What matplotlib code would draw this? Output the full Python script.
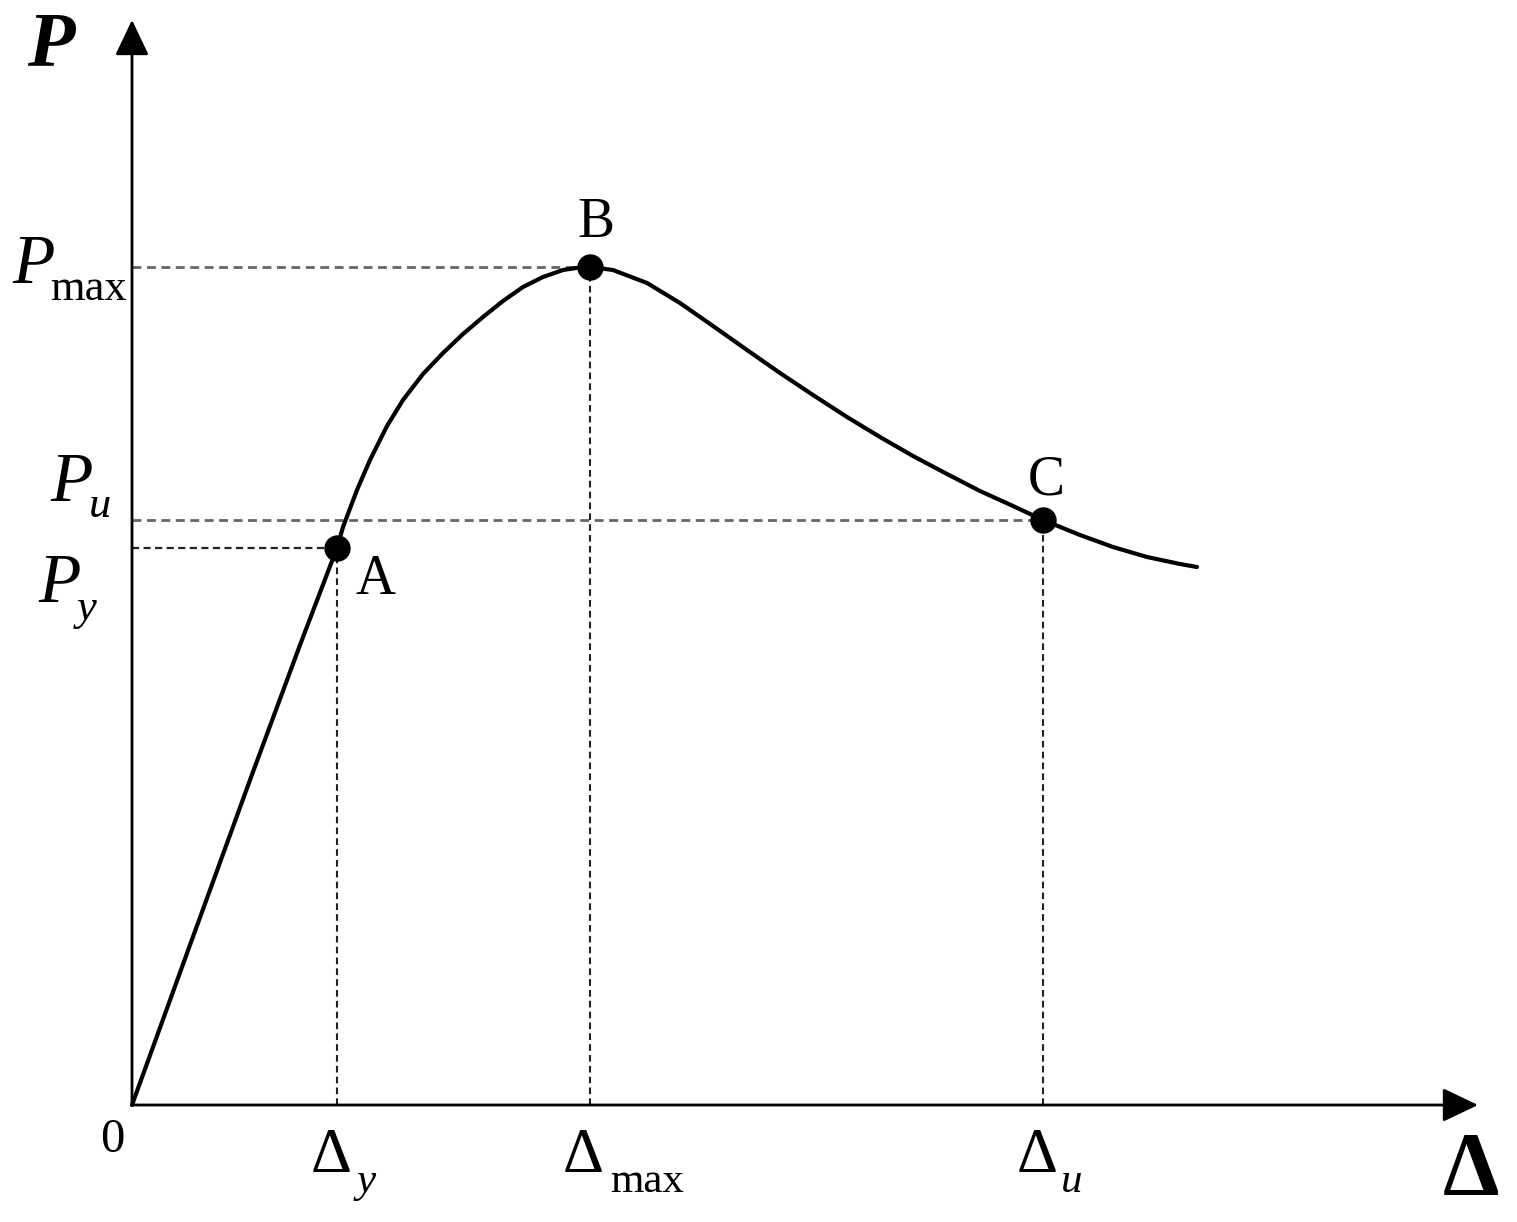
"""
Load-displacement (P-Delta) skeleton curve with yield, peak and ultimate points
"""
import matplotlib
matplotlib.use('Agg')
import matplotlib.pyplot as plt

# Curve data (displacement, load), arbitrary units
delta = [0, 0.58, 1.18, 1.68, 2.05, 2.11, 2.25, 2.38, 2.55, 2.71, 2.91, 3.11,
         3.31, 3.51, 3.71, 3.91, 4.11, 4.31, 4.51, 4.58, 4.81, 5.15, 5.48,
         5.81, 6.15, 6.48, 6.81, 7.15, 7.48, 7.81, 8.15, 8.48, 8.81, 9.11,
         9.48, 9.81, 10.15, 10.48, 10.65]
load = [0, 1.60, 3.25, 4.60, 5.57, 5.78, 6.15, 6.45, 6.79, 7.05, 7.31, 7.52,
        7.71, 7.88, 8.04, 8.18, 8.28, 8.35, 8.38, 8.38, 8.35, 8.22, 8.02,
        7.79, 7.55, 7.32, 7.10, 6.88, 6.68, 6.49, 6.31, 6.14, 5.99, 5.85,
        5.70, 5.58, 5.48, 5.41, 5.38]

# Characteristic points: A (yield), B (peak), C (ultimate)
point_names = ['A', 'B', 'C']
point_delta = [2.05, 4.58, 9.11]
point_load = [5.57, 8.38, 5.85]

x_axis_end = 13.46
y_axis_end = 10.85

SERIF = 'Liberation Serif'

fig = plt.figure(figsize=(15.17, 12.22), dpi=100)
ax = fig.add_axes([0, 0, 1, 1])
ax.set_xlim(-1.32, 13.85)
ax.set_ylim(-1.17, 11.05)
ax.axis('off')

# Axes with arrows
arrow_kw = dict(arrowstyle='-|>,head_length=2.2,head_width=1.05', lw=2.0,
                color='black', shrinkA=0, shrinkB=0, mutation_scale=10)
ax.annotate('', xy=(0, y_axis_end), xytext=(0, 0), arrowprops=arrow_kw)
ax.annotate('', xy=(x_axis_end, 0), xytext=(0, 0), arrowprops=arrow_kw)

# Dashed guide lines
dash = (0, (3.2, 2.0))
for i, (xd, yd) in enumerate(zip(point_delta, point_load)):
    if i == 0:
        ax.plot([0, xd], [yd, yd], color='#222222', lw=1.6, linestyle=dash)
    else:
        ax.plot([0, xd], [yd, yd], color='#666666', lw=2.0, linestyle=dash)
    ax.plot([xd, xd], [0, yd], color='#222222', lw=1.5, linestyle=dash)

# Main curve
ax.plot(delta, load, color='black', lw=3.0, solid_capstyle='round',
        solid_joinstyle='round')
ax.plot(point_delta, point_load, 'o', color='black', ms=18)

# Point labels
ax.text(point_delta[0] + 0.19, point_load[0] - 0.06, point_names[0], fontsize=40,
        family=SERIF, ha='left', va='top')
ax.text(point_delta[1] + 0.06, point_load[1] + 0.18, point_names[1], fontsize=40,
        family=SERIF, ha='center', va='bottom')
ax.text(point_delta[2] + 0.03, point_load[2] + 0.14, point_names[2], fontsize=40,
        family=SERIF, ha='center', va='bottom')

# Y-axis labels (P_max, P_u, P_y)
def y_label(x, y, sub, dx, dy, sub_italic):
    ax.text(x, y, 'P', fontsize=50, family=SERIF, style='italic',
            ha='left', va='baseline')
    ax.text(x + dx, y - dy, sub, fontsize=32, family=SERIF,
            style='italic' if sub_italic else 'normal', ha='left', va='baseline')

y_label(-1.20, point_load[1] - 0.16, 'max', 0.38, 0.17, False)
y_label(-0.82, point_load[2] + 0.19, 'u', 0.39, 0.16, True)
y_label(-0.94, point_load[0] - 0.54, 'y', 0.39, 0.18, True)

# X-axis labels (Delta_y, Delta_max, Delta_u)
def x_label(x, sub, sub_dx, sub_italic):
    ax.text(x, -0.67, '\u0394', fontsize=46, family=SERIF,
            ha='left', va='baseline')
    ax.text(x + sub_dx, -0.87, sub, fontsize=31, family=SERIF,
            style='italic' if sub_italic else 'normal', ha='left', va='baseline')

x_label(point_delta[0] - 0.26, 'y', 0.46, True)
x_label(point_delta[1] - 0.27, 'max', 0.47, False)
x_label(point_delta[2] - 0.26, 'u', 0.44, True)

# Axis titles and origin
ax.text(-0.32, -0.47, '0', fontsize=35, family=SERIF, ha='left', va='baseline')
ax.text(13.11, -0.90, '\u0394', fontsize=65, family=SERIF, weight='bold',
        ha='left', va='baseline')
ax.text(-1.05, 10.40, 'P', fontsize=56, family=SERIF, weight='bold',
        style='italic', ha='left', va='baseline')

plt.savefig('out.png', dpi=100, facecolor='white')
plt.close()
